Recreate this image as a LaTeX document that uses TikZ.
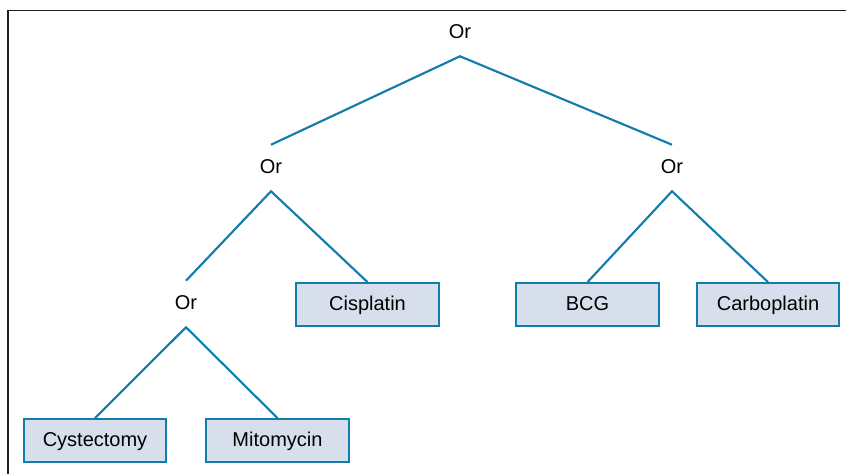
\documentclass[tikz,border=0pt]{standalone}
\usepackage{fontspec}
\setmainfont{Liberation Sans}
\definecolor{treeblue}{RGB}{18,124,172}
\definecolor{boxfill}{RGB}{215,223,236}
\definecolor{framegray}{RGB}{30,30,30}

\begin{document}
\begin{tikzpicture}[x=0.75pt,y=-0.75pt,
    op/.style={minimum height=34.5pt, inner sep=0pt, text height=2ex, text depth=0.4ex,
        font=\fontsize{15}{18}\selectfont},
    leaf/.style={draw=treeblue, fill=boxfill, line width=1.6pt, minimum width=107pt,
        minimum height=32pt, inner sep=0pt, text height=2ex, text depth=0.4ex,
        font=\fontsize{15}{18}\selectfont},
    edge/.style={draw=treeblue, line width=1.6pt}]
    \useasboundingbox (0,0) rectangle (846,474);
    \draw[framegray, line width=1.3pt] (8,474) -- (8,10.5) -- (846,10.5);

    \node[op] (or1) at (460,33) {Or};
    \node[op] (or2) at (271,168) {Or};
    \node[op] (or3) at (672,168) {Or};
    \node[op] (or4) at (186,304) {Or};
    \node[leaf] (cis) at (367.5,304.5) {Cisplatin};
    \node[leaf] (bcg) at (587.5,304.5) {BCG};
    \node[leaf] (carbo) at (768,304.5) {Carboplatin};
    \node[leaf] (cyst) at (95,440.5) {Cystectomy};
    \node[leaf] (mito) at (277.5,440.5) {Mitomycin};

    \draw[edge] (or2.north)--(or1.south)--(or3.north);
    \draw[edge] (or4.north)--(or2.south)--(cis.north);
    \draw[edge] (bcg.north)--(or3.south)--(carbo.north);
    \draw[edge] (cyst.north)--(or4.south)--(mito.north);
\end{tikzpicture}
\end{document}
